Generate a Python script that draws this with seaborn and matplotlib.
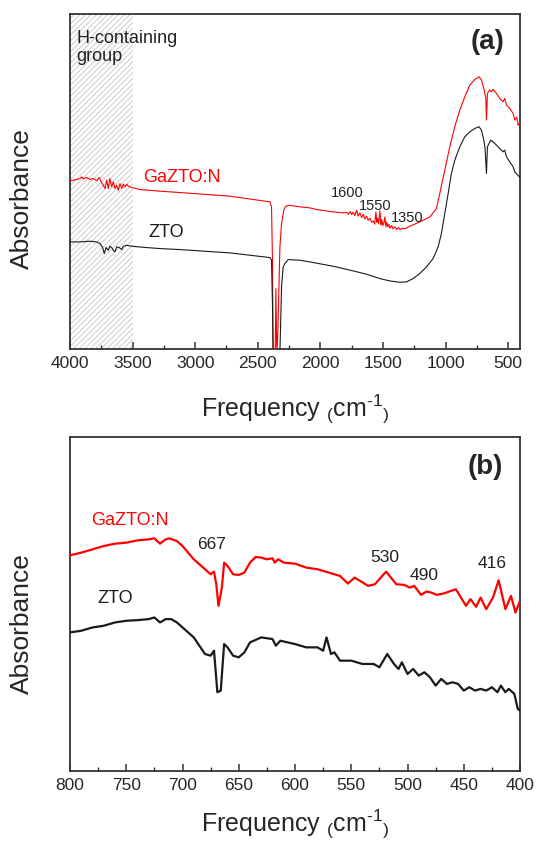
import numpy as np
import pandas as pd
import matplotlib
matplotlib.use("Agg")
import matplotlib.pyplot as plt
from matplotlib.ticker import MultipleLocator, NullLocator
import seaborn as sns

# ---------------- data: panel (a) ----------------
a_red_freq = [4000, 3973, 3947, 3920, 3907, 3894, 3867, 3840, 3814, 3787, 3766, 3747, 3734, 3720,
              3707, 3694, 3681, 3667, 3654, 3641, 3627, 3614, 3601, 3587, 3574, 3561, 3547, 3534,
              3508, 3441, 3281, 3122, 2722, 2403, 2390, 2382, 2377, 2362, 2355, 2348, 2341, 2336,
              2323, 2310, 2291, 2280, 2257, 2163, 2084, 2030, 1897, 1817,
              1790, 1775, 1760, 1750, 1737, 1725, 1710, 1698, 1684, 1670, 1657, 1645, 1631, 1618,
              1604, 1590, 1577, 1566, 1556, 1549, 1543, 1535, 1524, 1517, 1511, 1500, 1490, 1484,
              1477, 1471, 1460, 1452, 1444, 1430, 1420, 1404, 1390, 1375, 1364, 1345, 1324,
              1285, 1205, 1125, 1072, 1046, 1006, 966, 926, 886, 846, 806, 766, 732, 713, 694,
              678, 673, 665, 647, 633, 620, 593, 567, 540, 527, 513, 487, 460, 447, 430, 420, 407]
a_red_abs = [504, 506, 508, 511, 516, 510, 514, 508, 511, 504, 514, 498, 491, 481,
             506, 481, 511, 486, 501, 481, 491, 476, 496, 481, 494, 486, 494, 488,
             484, 478, 473, 469, 458, 441, 426, 256, -60, -60, 181, -20, 36, 106,
             306, 376, 418, 426, 431, 426, 423, 418, 411, 408,
             409, 404, 412, 403, 410, 400, 416, 398, 408, 394, 404, 390, 398, 386,
             392, 380, 384, 374, 410, 380, 392, 376, 414, 372, 388, 370, 382, 396,
             366, 380, 366, 374, 362, 370, 360, 366, 358, 364, 358, 362, 360,
             368, 381, 396, 421, 466, 536, 606, 666, 716, 756, 791, 808, 816, 806, 781,
             751, 686, 766, 776, 771, 778, 766, 751, 741, 751, 731, 721, 706, 686, 695, 670, 680]

a_blk_freq = [4000, 3920, 3840, 3787, 3760, 3739, 3726, 3712, 3694, 3681, 3667, 3654, 3641, 3627,
              3606, 3587, 3574, 3547, 3508, 3388, 3281, 3122, 2722, 2403, 2390, 2382, 2376, 2335,
              2323, 2310, 2297, 2283, 2257, 2163, 2084, 1897, 1737, 1631, 1524, 1445, 1365, 1312,
              1259, 1206, 1152, 1099, 1059, 1033, 1006, 979, 953, 926, 886, 846, 806, 766, 732,
              713, 694, 684, 673, 665, 652, 639, 620, 593, 567, 540, 527, 513, 487, 460, 447, 420, 407]
a_blk_abs = [321, 321, 323, 321, 316, 304, 286, 304, 296, 308, 304, 296, 291, 306,
             304, 298, 308, 311, 308, 304, 301, 298, 288, 274, 266, 126, -60, -60,
             -10, 186, 246, 256, 268, 266, 261, 248, 234, 224, 211, 204, 200, 201,
             211, 226, 246, 271, 306, 346, 406, 466, 526, 566, 606, 636, 651, 661, 666,
             656, 626, 601, 526, 606, 616, 626, 621, 611, 601, 591, 596, 576, 561, 546, 531, 520, 515]

# ---------------- data: panel (b) ----------------
b_red_freq = [800, 790, 780, 770, 760, 750, 740, 730, 725, 720, 715, 712, 705, 700, 690, 680, 675,
              672, 670, 668, 665, 663, 660, 655, 650, 645, 640, 635, 630, 625, 620, 618, 615, 610,
              600, 590, 580, 570, 560, 553, 547, 535, 529, 519, 510, 503, 498, 494, 488, 483, 479,
              474, 468, 457, 448, 444, 439, 435, 430, 424, 419, 413, 408, 404, 400]
b_red_abs = [649, 657, 667, 677, 684, 687, 694, 697, 700, 684, 697, 700, 692, 677, 637, 607, 592,
             600, 562, 497, 552, 627, 617, 592, 590, 597, 627, 644, 642, 637, 640, 627, 637, 627,
             624, 612, 607, 597, 587, 564, 582, 557, 562, 600, 562, 560, 552, 557, 530, 540, 537,
             530, 534, 547, 497, 517, 494, 522, 487, 522, 574, 487, 527, 477, 512]

b_blk_freq = [800, 790, 780, 770, 760, 750, 740, 730, 725, 720, 715, 710, 705, 700, 690, 680, 675,
              672, 669, 666, 663, 660, 655, 650, 645, 640, 630, 620, 617, 613, 600, 590, 580, 575,
              572, 568, 565, 560, 550, 540, 530, 525, 518, 512, 508, 505, 500, 495, 490, 485, 480,
              475, 470, 465, 460, 455, 450, 445, 440, 435, 430, 425, 420, 417, 413, 410, 405, 402, 400]
b_blk_abs = [417, 422, 432, 437, 447, 452, 454, 457, 462, 447, 457, 457, 447, 432, 402, 352, 347,
             362, 237, 242, 382, 372, 347, 342, 357, 387, 402, 397, 377, 392, 382, 372, 372, 362,
             402, 352, 357, 332, 332, 322, 322, 312, 352, 322, 307, 327, 292, 307, 287, 297, 282,
             257, 277, 262, 267, 262, 242, 252, 242, 247, 242, 252, 237, 257, 237, 247, 232, 187, 182]

series_names = ["GaZTO:N", "ZTO"]
peaks_a = ["1600", "1550", "1350"]
peaks_b = ["667", "530", "490", "416"]
ticks_a = [4000, 3500, 3000, 2500, 2000, 1500, 1000, 500]
ticks_b = [800, 750, 700, 650, 600, 550, 500, 450, 400]

# ---------------- style ----------------
sns.set_theme(style="white")
plt.rcParams["font.family"] = ["Liberation Sans", "DejaVu Sans"]
plt.rcParams["mathtext.fontset"] = "custom"
plt.rcParams["mathtext.rm"] = "Liberation Sans"
plt.rcParams["hatch.linewidth"] = 0.6

SPINE = "#333333"
RED = "#ff0000"
BLK = "#1a1a1a"

fig = plt.figure(figsize=(5.36, 8.42), dpi=100)
ax1 = fig.add_axes([70 / 536, 1 - 349 / 842, 450 / 536, 335 / 842])
ax2 = fig.add_axes([70 / 536, 1 - 771 / 842, 450 / 536, 334 / 842])

df_a = pd.concat([
    pd.DataFrame({"freq": a_red_freq, "abs": a_red_abs, "sample": series_names[0]}),
    pd.DataFrame({"freq": a_blk_freq, "abs": a_blk_abs, "sample": series_names[1]}),
])
df_b = pd.concat([
    pd.DataFrame({"freq": b_red_freq, "abs": b_red_abs, "sample": series_names[0]}),
    pd.DataFrame({"freq": b_blk_freq, "abs": b_blk_abs, "sample": series_names[1]}),
])
pal = {series_names[0]: RED, series_names[1]: BLK}

# hatched H-containing region
ax1.axvspan(3500, 4000, facecolor="white", edgecolor="#c4c4c4", hatch="//////", lw=0, zorder=0)

sns.lineplot(data=df_a, x="freq", y="abs", hue="sample", palette=pal, estimator=None,
             sort=False, lw=0.8, legend=False, ax=ax1, zorder=3)
sns.lineplot(data=df_b, x="freq", y="abs", hue="sample", palette=pal, estimator=None,
             sort=False, lw=1.6, legend=False, ax=ax2, zorder=3)

ax1.set_xlim(4000, 405)
ax1.set_ylim(0, 1004)
ax2.set_xlim(800, 400)
ax2.set_ylim(0, 1005)

xlabel = r"Frequency $\mathregular{_{(}cm^{\text{-}1}{}_{)}}$"
for ax, ticks, minor, lp in [(ax1, ticks_a, 250, 16), (ax2, ticks_b, 25, 11)]:
    ax.set_xticks(ticks)
    ax.set_xticklabels([str(t) for t in ticks])
    ax.xaxis.set_minor_locator(MultipleLocator(minor))
    ax.yaxis.set_major_locator(NullLocator())
    ax.tick_params(axis="x", which="major", direction="in", length=5, width=1.1,
                   color=SPINE, labelsize=12.5, pad=5, bottom=True, top=False)
    ax.tick_params(axis="x", which="minor", direction="in", length=3, width=1.0,
                   color=SPINE, bottom=True, top=False)
    for s in ax.spines.values():
        s.set_color(SPINE)
        s.set_linewidth(1.3)
        s.set_visible(True)
    ax.set_xlabel(xlabel, fontsize=18, labelpad=lp)
    ax.set_ylabel("Absorbance", fontsize=19)

ax1.yaxis.set_label_coords(-0.08, 0.45)
ax2.yaxis.set_label_coords(-0.08, 0.44)

# ---------------- annotations panel (a) ----------------
ax1.text(3952, 957, "H-containing\ngroup", fontsize=13, color="#222222", ha="left", va="top",
         linespacing=1.1, zorder=4)
ax1.text(3417, 501, series_names[0], fontsize=13, color=RED, ha="left", va="baseline")
ax1.text(3377, 336, series_names[1], fontsize=13, color=BLK, ha="left", va="baseline")
for lab, fx, fy in zip(peaks_a, [1788, 1564, 1309], [456, 417, 381]):
    ax1.text(fx, fy, lab, fontsize=10.5, color="#222222", ha="center", va="baseline")
ax1.text(526, 919, "(a)", fontsize=20, fontweight="bold", ha="right", va="center")

# ---------------- annotations panel (b) ----------------
ax2.text(781, 754, series_names[0], fontsize=13, color=RED, ha="left", va="center")
ax2.text(776, 519, series_names[1], fontsize=13, color=BLK, ha="left", va="center")
for lab, fx, fy in zip(peaks_b, [674, 520, 485, 425], [682, 641, 587, 624]):
    ax2.text(fx, fy, lab, fontsize=12.5, color="#222222", ha="center", va="center")
ax2.text(415, 915, "(b)", fontsize=20, fontweight="bold", ha="right", va="center")

fig.savefig("out.png", dpi=100)
